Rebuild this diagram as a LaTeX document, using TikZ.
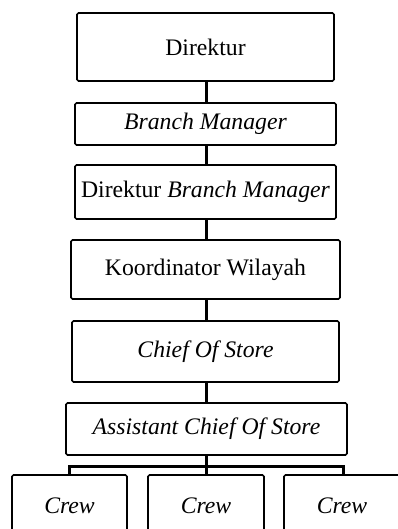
\documentclass[tikz,border=0pt]{standalone}
\usepackage{fontspec}
\setmainfont{Liberation Serif}
\begin{document}
\begin{tikzpicture}[x=1pt,y=-1pt,
  box/.style={draw, line width=1.6pt, rounded corners=1.5pt, inner sep=0pt, align=center,
    font=\fontsize{23.7}{28}\selectfont},
  conn/.style={line width=3pt}]
\useasboundingbox (0,0) rectangle (398,529);
\node[box, minimum width=257, minimum height=68] (dir) at (205.5,47) {Direktur};
\node[box, minimum width=261, minimum height=42] (bm) at (205.5,124) {\textit{Branch Manager}};
\node[box, minimum width=261, minimum height=54] (dbm) at (205.5,192) {Direktur \textit{Branch Manager}};
\node[box, minimum width=269, minimum height=59] (kw) at (205.5,269.5) {Koordinator Wilayah};
\node[box, minimum width=267, minimum height=61] (cos) at (205.5,351.5) {\textit{Chief Of Store}};
\node[box, minimum width=281, minimum height=52] (acos) at (206.5,429) {\textit{Assistant Chief Of Store}};
\node[box, minimum width=115, minimum height=62] (c1) at (69.5,506) {\textit{Crew}};
\node[box, minimum width=116, minimum height=62] (c2) at (206,506) {\textit{Crew}};
\node[box, minimum width=116, minimum height=62] (c3) at (342,506) {\textit{Crew}};
\coordinate (bar) at (206,466);
\draw[conn] (dir.south -| bar) -- (bm.north -| bar);
\draw[conn] (bm.south -| bar) -- (dbm.north -| bar);
\draw[conn] (dbm.south -| bar) -- (kw.north -| bar);
\draw[conn] (kw.south -| bar) -- (cos.north -| bar);
\draw[conn] (cos.south -| bar) -- (acos.north -| bar);
\draw[conn] (acos.south -| bar) -- (bar);
\draw[conn, line cap=rect] (c1.north -| 69,0) |- (bar) -| (c3.north -| 343,0);
\draw[conn] (bar) -- (c2.north);
\end{tikzpicture}
\end{document}
